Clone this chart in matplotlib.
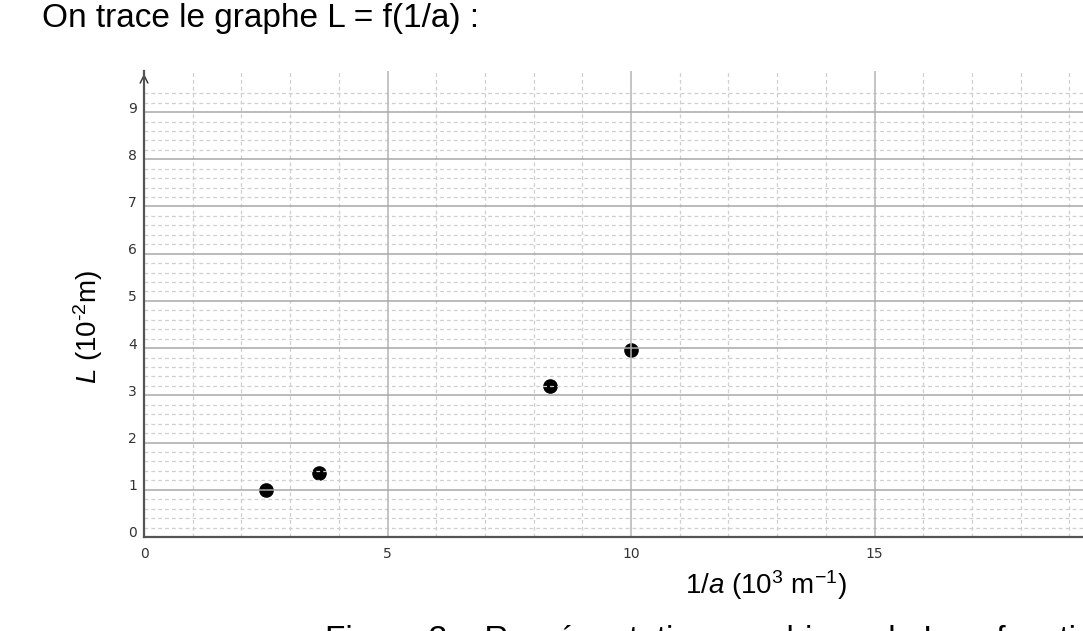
import numpy as np
import matplotlib
matplotlib.use("Agg")
import matplotlib.pyplot as plt
from matplotlib import transforms

# mesures : 1/a en 10^3 m^-1, L en 10^-2 m
inv_a = [2.5, 3.6, 8.33, 10.0]
L = [1.0, 1.35, 3.2, 3.95]

x_major = [0, 5, 10, 15]
y_major = list(range(0, 10))
x_minor = [v for v in range(1, 20) if v % 5 != 0]
y_minor = [round(0.2 * k, 1) for k in range(1, 48) if k % 5 != 0]

plt.rcParams["font.family"] = ["Liberation Sans", "DejaVu Sans"]
plt.rcParams["mathtext.fontset"] = "custom"
plt.rcParams["mathtext.rm"] = "Liberation Sans"
plt.rcParams["mathtext.it"] = "Liberation Sans:italic"

fig = plt.figure(figsize=(10.83, 6.31), dpi=100)
ax = fig.add_axes([0.133, 0.149, 0.867, 0.7385])
ax.set_xlim(0, 19.28)
ax.set_ylim(0, 9.87)

# grille
for v in x_minor:
    ax.axvline(v, color="#cfcfcf", lw=0.9, ls=(0, (3, 2.5)), zorder=3)
for v in y_minor:
    ax.axhline(v, color="#cfcfcf", lw=0.9, ls=(0, (3, 2.5)), zorder=3)
for v in x_major[1:]:
    ax.axvline(v, color="#b4b4b4", lw=1.1, zorder=3)
for v in y_major[1:]:
    ax.axhline(v, color="#a8a8a8", lw=1.1, zorder=3)

ax.plot(inv_a, L, "o", color="black", ms=9.5, zorder=2)

for s in ["top", "right"]:
    ax.spines[s].set_visible(False)
for s in ["left", "bottom"]:
    ax.spines[s].set_color("#555555")
    ax.spines[s].set_linewidth(1.6)
    ax.spines[s].set_zorder(4)

# fleche sur l'axe vertical
ax.annotate("", xy=(0, 1.0), xytext=(0, 0.93), xycoords="axes fraction",
            arrowprops=dict(arrowstyle="->", color="#333333", lw=1.0,
                            mutation_scale=14), annotation_clip=False)

ax.set_xticks(x_major)
ax.set_yticks(y_major)
ax.tick_params(length=0, labelsize=10, colors="#333333")
ax.tick_params(axis="y", pad=5)
ax.tick_params(axis="x", pad=7)
for lab in ax.get_xticklabels() + ax.get_yticklabels():
    lab.set_family("DejaVu Sans")
off = transforms.ScaledTranslation(0, 5 / 100, fig.dpi_scale_trans)
for lab in ax.get_yticklabels():
    lab.set_transform(lab.get_transform() + off)

ax.set_ylabel(r"$\mathit{L}$ (10$^{\text{-}2}$m)", fontsize=20)
ax.yaxis.set_label_coords(-0.042, 0.45)
ax.set_xlabel(r"1/$\mathit{a}$ (10$^3$ m$^{-1}$)", fontsize=20)
ax.xaxis.set_label_coords(0.662, -0.066)

fig.text(42 / 1083, 1 - 19 / 631, "On trace le graphe L = f(1/a) :",
         fontsize=24, va="center", ha="left")
fig.text(325 / 1083, 1 - 625 / 631,
         "Figure 3 \u2013 Représentation graphique de L en fonction de 1/a",
         fontsize=24, va="top", ha="left")

fig.savefig("out.png", dpi=100)
